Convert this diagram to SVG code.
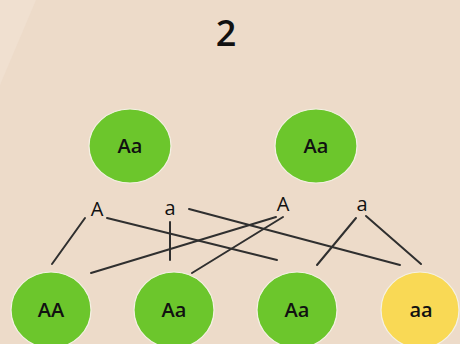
<svg xmlns="http://www.w3.org/2000/svg" width="460" height="344" viewBox="0 0 460 344">
<style>
.g{fill:#6cc62c;stroke:#f4f1e4;stroke-width:1.2}
.y{fill:#f9d955;stroke:#f4f1e4;stroke-width:1.2}
.t{font-family:"Open Sans","DejaVu Sans",sans-serif;font-size:20px;font-weight:600;fill:#111;text-anchor:middle}
.l{font-family:"Open Sans","DejaVu Sans",sans-serif;font-size:20px;font-weight:500;fill:#111;text-anchor:middle}
#connectors line{stroke:#2f2f2f;stroke-width:2;stroke-linecap:round}
</style>
<rect width="460" height="344" fill="#eddbc9"/>
<polygon points="0,0 36,0 0,85" fill="#f0e0d0"/>
<text x="226" y="46" style="font-family:'Open Sans','DejaVu Sans',sans-serif;font-size:36px;font-weight:600;fill:#111;text-anchor:middle">2</text>
<g id="connectors">
<line x1="85" y1="218" x2="52" y2="264"/>
<line x1="107" y1="218" x2="277" y2="260"/>
<line x1="170" y1="222" x2="170" y2="260"/>
<line x1="189" y1="209" x2="400" y2="265"/>
<line x1="276" y1="217" x2="91" y2="273"/>
<line x1="283" y1="217" x2="192" y2="273"/>
<line x1="356" y1="218" x2="317" y2="265"/>
<line x1="366" y1="216" x2="421" y2="264"/>
</g>
<g id="label-A1"><text class="l" x="97" y="216">A</text></g>
<g id="label-a1"><text class="l" x="170" y="215">a</text></g>
<g id="label-A2"><text class="l" x="283" y="211">A</text></g>
<g id="label-a2"><text class="l" x="362" y="211">a</text></g>
<g id="parent1"><ellipse class="g" cx="130" cy="146" rx="41" ry="37"/><text class="t" x="130" y="153">Aa</text></g>
<g id="parent2"><ellipse class="g" cx="316" cy="146" rx="41" ry="37"/><text class="t" x="316" y="153">Aa</text></g>
<g id="child1"><ellipse class="g" cx="51" cy="310" rx="40" ry="38"/><text class="t" x="51" y="317">AA</text></g>
<g id="child2"><ellipse class="g" cx="174" cy="310" rx="40" ry="38"/><text class="t" x="174" y="317">Aa</text></g>
<g id="child3"><ellipse class="g" cx="297" cy="310" rx="40" ry="38"/><text class="t" x="297" y="317">Aa</text></g>
<g id="child4"><ellipse class="y" cx="420" cy="310" rx="39" ry="38"/><text class="t" x="421" y="317">aa</text></g>
</svg>
